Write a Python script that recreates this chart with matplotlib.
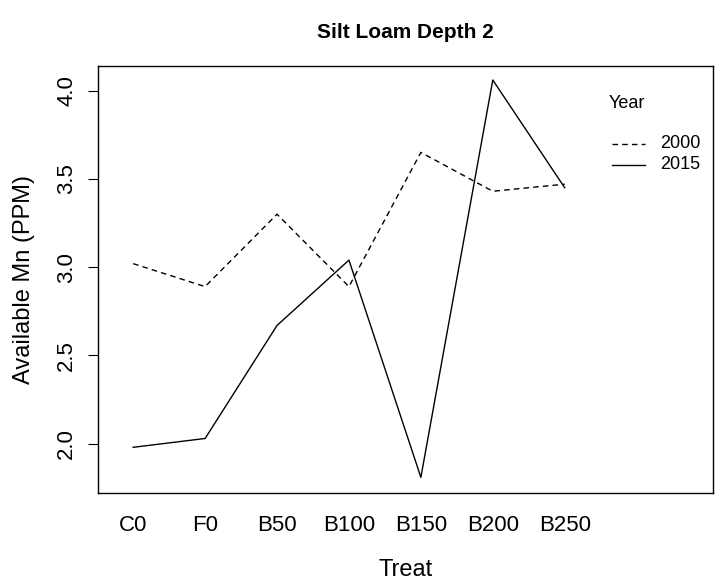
import matplotlib
matplotlib.use("Agg")
import matplotlib.pyplot as plt

treat = ["C0", "F0", "B50", "B100", "B150", "B200", "B250"]
y2000 = [3.02, 2.89, 3.30, 2.89, 3.65, 3.43, 3.47]
y2015 = [1.98, 2.03, 2.67, 3.04, 1.81, 4.06, 3.45]
yticks = [2.0, 2.5, 3.0, 3.5, 4.0]

plt.rcParams['font.family'] = ['Liberation Sans', 'DejaVu Sans']

fig = plt.figure(figsize=(7.15, 5.83), dpi=100)
ax = fig.add_axes([0.137, 0.154, 0.860, 0.733])
x = list(range(1, len(treat) + 1))
ax.plot(x, y2000, color='black', linestyle=(0, (4, 3)), linewidth=1)
ax.plot(x, y2015, color='black', linestyle='-', linewidth=1)

ax.set_xlim(0.51, 9.06)
ax.set_ylim(1.72, 4.14)
ax.set_xticks(x)
ax.set_xticklabels(treat, fontsize=16)
ax.tick_params(axis='x', length=0, pad=16)
ax.set_yticks(yticks)
ax.set_yticklabels([f"{v:.1f}" for v in yticks], fontsize=16, rotation=90, va='center')
ax.tick_params(axis='y', length=7, pad=8, direction='out')
for s in ax.spines.values():
    s.set_linewidth(1)

ax.set_xlabel("Treat", fontsize=17, labelpad=16)
ax.set_ylabel("Available Mn (PPM)", fontsize=17, labelpad=15)
ax.set_title("Silt Loam Depth 2", fontsize=15, fontweight='bold', pad=20)

# legend drawn as in R interaction.plot
ax.text(0.830, 0.913, "Year", transform=ax.transAxes, fontsize=13, va='center', ha='left')
ax.plot([0.836, 0.889], [0.818, 0.818], transform=ax.transAxes, color='black', linestyle=(0, (4, 3)), linewidth=1)
ax.plot([0.836, 0.889], [0.769, 0.769], transform=ax.transAxes, color='black', linestyle='-', linewidth=1)
ax.text(0.914, 0.818, "2000", transform=ax.transAxes, fontsize=13, va='center', ha='left')
ax.text(0.914, 0.769, "2015", transform=ax.transAxes, fontsize=13, va='center', ha='left')

fig.savefig("out.png", dpi=100)
